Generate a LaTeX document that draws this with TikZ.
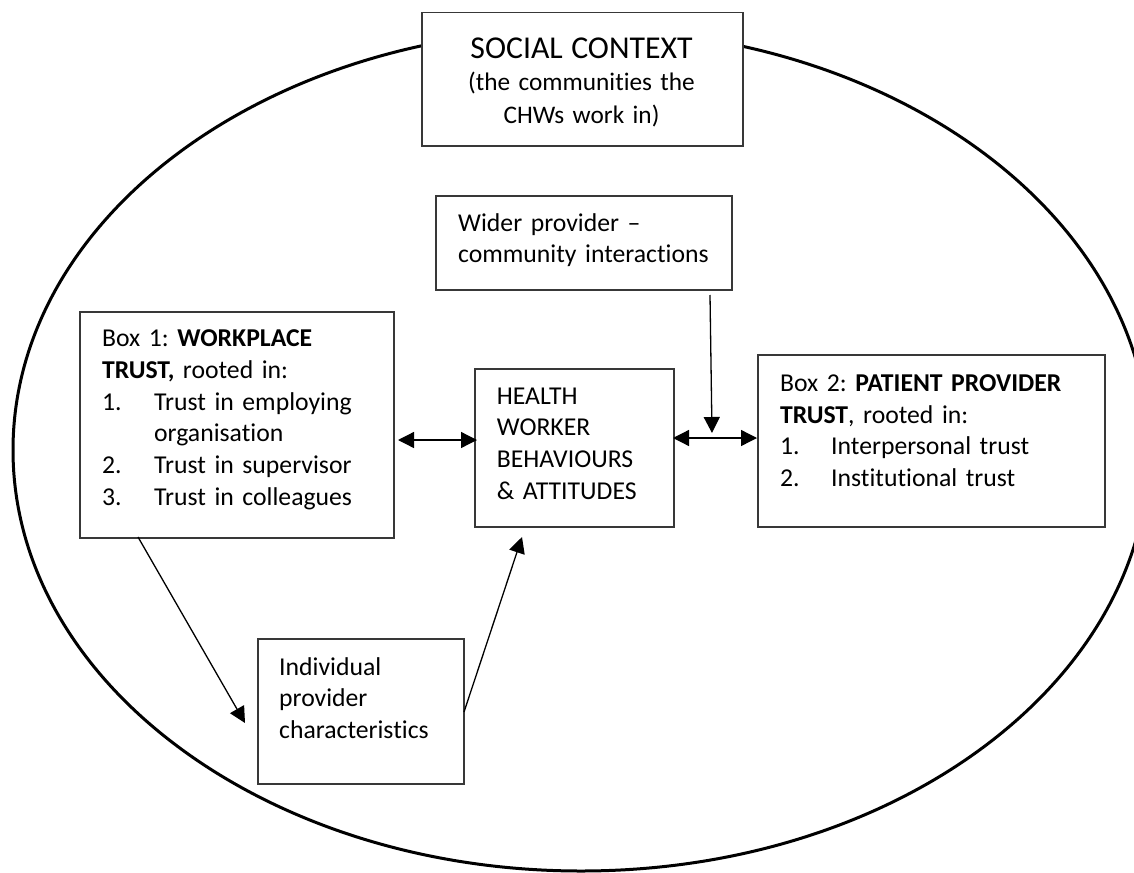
\documentclass[tikz,border=0pt]{standalone}
\usepackage{fontspec}
\setmainfont{Carlito}[Ligatures=NoCommon]
\usetikzlibrary{arrows.meta}
\frenchspacing
\begin{document}
\begin{tikzpicture}[x=1pt,y=-1pt,
  box/.style={draw=black!78,line width=1.5pt,fill=white,anchor=north west,inner sep=0pt},
  txt/.style={anchor=base west,inner sep=0pt,align=left,text width=340pt,font=\frenchspacing\fontsize{25.7}{31.7}\selectfont},
  tip/.tip={Triangle[length=16pt,width=16pt]},
  conn/.style={line width=1.3pt,-tip},
  biconn/.style={line width=1.3pt,tip-tip}]
\useasboundingbox (0,0) rectangle (1134,872);
\clip (0,0) rectangle (1134,872);
% social context ellipse
\draw[line width=3pt] (581,450) ellipse [x radius=568, y radius=421];

% boxes
\node[box,minimum width=321pt,minimum height=133pt] (sc) at (421,12) {};
\node[box,minimum width=296pt,minimum height=94pt] (wp) at (435,195) {};
\node[box,minimum width=314pt,minimum height=226pt] (b1) at (79,311) {};
\node[box,minimum width=199pt,minimum height=158pt] (hw) at (474,368) {};
\node[box,minimum width=347pt,minimum height=172pt] (b2) at (757,354) {};
\node[box,minimum width=206pt,minimum height=145pt] (ind) at (257,638) {};

% texts
\node[anchor=base,inner sep=0pt,align=center,text width=320pt,font=\frenchspacing\fontsize{25.3}{33.3}\selectfont] (sct) at (581.5,58.3)
  {{\fontsize{31.8}{33.3}\selectfont SOCIAL CONTEXT}\\[-0.9pt](the communities the\\CHWs work in)};
\node[txt] (wpt) at (458,231) {Wider provider –\\community interactions};
\node[txt] (b1t) at (102,346.7) {Box 1: \textbf{WORKPLACE}\\\textbf{TRUST,} rooted in:\\
  \makebox[52pt][l]{1.}Trust in employing\\\hspace*{52pt}organisation\\
  \makebox[52pt][l]{2.}Trust in supervisor\\
  \makebox[52pt][l]{3.}Trust in colleagues};
\node[txt] (hwt) at (496.7,404) {HEALTH\\WORKER\\BEHAVIOURS\\\& ATTITUDES};
\node[txt] (b2t) at (780,391.5) {Box 2: \textbf{PATIENT PROVIDER}\\\textbf{TRUST}, rooted in:\\
  \makebox[51pt][l]{1.}Interpersonal trust\\
  \makebox[51pt][l]{2.}Institutional trust};
\node[txt] (indt) at (279,675) {Individual\\provider\\characteristics};

% connector end points
\coordinate (wpa) at (710,295);
\coordinate (wpb) at (712,433);
\coordinate (l1) at (398,440);
\coordinate (l2) at (477,440);
\coordinate (r1) at (673,438);
\coordinate (r2) at (757,438);
\coordinate (d1) at (138,537);
\coordinate (d2) at (245,723);
\coordinate (u1) at (464,712);
\coordinate (u2) at (522,537);

\draw[conn] (wpa) -- (wpb);
\draw[biconn] (l1) -- (l2);
\draw[biconn] (r1) -- (r2);
\draw[conn] (d1) -- (d2);
\draw[conn] (u1) -- (u2);
\end{tikzpicture}
\end{document}
